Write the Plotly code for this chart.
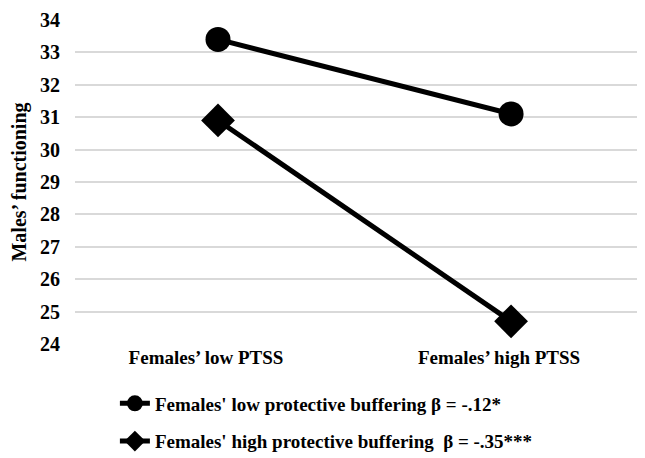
import plotly.graph_objects as go

categories = ["Females’ low PTSS", "Females’ high PTSS"]
low_buffering = [33.4, 31.1]
high_buffering = [30.9, 24.7]
series_names = [
    "Females' low protective buffering β = -.12*",
    "Females' high protective buffering  β = -.35***",
]
y_ticks = list(range(24, 35))

FONT = "Liberation Serif"

fig = go.Figure()
fig.add_trace(go.Scatter(
    x=[0, 1], y=low_buffering, name=series_names[0], mode="lines+markers",
    legendgroup="a",
    line=dict(color="black", width=5),
    marker=dict(symbol="circle", size=25, color="black"),
))
fig.add_trace(go.Scatter(
    x=[0, 1], y=high_buffering, name=series_names[1], mode="lines+markers",
    legendgroup="b",
    line=dict(color="black", width=5),
    marker=dict(symbol="diamond", size=26, color="black"),
))

fig.update_layout(
    width=637, height=450,
    margin=dict(l=67, r=0, t=12, b=114, autoexpand=False),
    paper_bgcolor="white", plot_bgcolor="white",
    font=dict(family=FONT, size=19, color="black", weight="bold"),
    showlegend=True,
    legend=dict(
        x=0.07, xanchor="left", y=-0.125, yanchor="top",
        font=dict(family=FONT, size=19, color="black", weight="bold"),
        tracegroupgap=10, itemsizing="trace",
    ),
    xaxis=dict(
        tickmode="array", tickvals=[0, 1], ticktext=categories,
        range=[-0.488, 1.457], showgrid=False, zeroline=False,
        showline=False, ticks="", ticklabelshift=-12, automargin=False,
        tickfont=dict(family=FONT, size=19, color="black", weight="bold"),
    ),
    yaxis=dict(
        range=[24, 34], tickmode="array", tickvals=y_ticks,
        showgrid=True, gridcolor="#d9d9d9", gridwidth=1.5, zeroline=False,
        showline=False, ticks="", ticklabelstandoff=14, automargin=False,
        tickfont=dict(family=FONT, size=20, color="black", weight="bold"),
        title=dict(text="Males’ functioning", standoff=14,
                   font=dict(family=FONT, size=20, color="black", weight="bold")),
    ),
)

fig.write_html("out.html")
